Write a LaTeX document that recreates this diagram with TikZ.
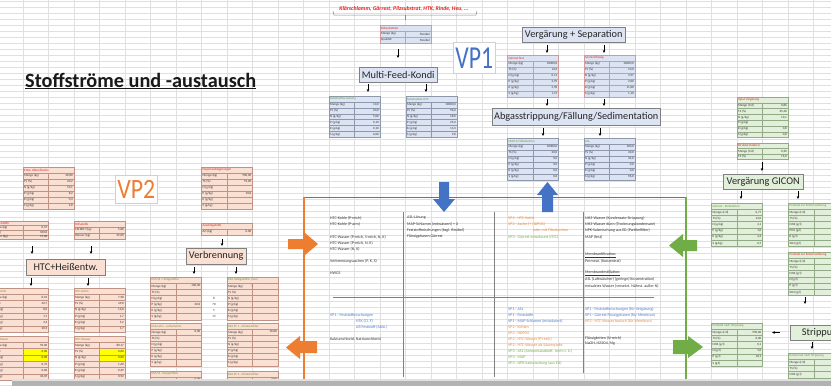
\documentclass[tikz,border=0pt]{standalone}
\usepackage{fontspec}
\setmainfont{Carlito}
\usetikzlibrary{arrows.meta}

\definecolor{gridc}{HTML}{E0E0E0}
\definecolor{vpblue}{HTML}{DCE3F2}
\definecolor{vporange}{HTML}{FADFD3}
\definecolor{vpgreen}{HTML}{E2EFDA}
\definecolor{bdblue}{HTML}{8E98AC}
\definecolor{bdred}{HTML}{D49A9A}
\definecolor{bdorange}{HTML}{BF9284}
\definecolor{bdgreen}{HTML}{93AA86}
\definecolor{hdred}{HTML}{E0201B}
\definecolor{hdgreen}{HTML}{5E9A3A}
\definecolor{hdolive}{HTML}{7E9140}
\definecolor{xlblue}{HTML}{4472C4}
\definecolor{xlorange}{HTML}{ED7D31}
\definecolor{xlgreen}{HTML}{70AD47}
\definecolor{frameblue}{HTML}{5078B0}
\definecolor{yel}{HTML}{FFFF00}
\definecolor{txtblue}{HTML}{4F7BC8}
\definecolor{txtorange}{HTML}{E58A45}
\definecolor{txtgreen}{HTML}{79AE4C}

\tikzset{
  cellline/.style={line width=0.3pt},
  cell/.style={anchor=west,inner sep=0pt,font=\fontsize{3.2}{3.6}\selectfont,text=black!80},
  cellv/.style={anchor=east,inner sep=0pt,font=\fontsize{3.2}{3.6}\selectfont,text=black!80},
  procbox/.style={draw=black!50,line width=0.45pt,anchor=north west,inner sep=0pt,
    font=\fontsize{10.3}{12}\selectfont,text=black!85},
  sarrow/.style={-{Stealth[length=3pt,width=2.6pt]},line width=0.5pt,black},
  ctext/.style={anchor=west,inner sep=0pt,font=\fontsize{4}{4.6}\selectfont,text=black!80},
  sep/.style={black!50,line width=0.6pt},
}

% spreadsheet table: x, y, row height, fill, border, header colour, header text
\newcounter{tblno}
\newcounter{rowno}
\newcommand\tbl[7]{%
  \stepcounter{tblno}\setcounter{rowno}{0}%
  \xdef\tX{#1}\xdef\tY{#2}\xdef\tH{#3}\xdef\tF{#4}\xdef\tB{#5}%
  \fill[#4] (#1,#2) rectangle ++(51,#3);
  \draw[#5,cellline] (#1,#2) rectangle ++(51,#3);
  \node[cell,text=#6,name=t\thetblno-h] at ({#1+1},{#2+#3/2}) {#7};%
}
% one table row: [value cell fill] label, value
\newcommand\trow[3][]{%
  \stepcounter{rowno}%
  \pgfmathsetmacro\ry{\tY+\therowno*\tH}%
  \fill[\tF] (\tX,\ry) rectangle ++(51,\tH);
  \if\relax\detokenize{#1}\relax\else
    \fill[#1] ({\tX+25.5},\ry) rectangle ++(25.5,\tH);
  \fi
  \draw[\tB,cellline] (\tX,\ry) rectangle ++(25.5,\tH) rectangle ++(25.5,-\tH);
  \node[cell,name=t\thetblno-l\therowno] at ({\tX+1},{\ry+\tH/2}) {#2};
  \node[cellv,name=t\thetblno-v\therowno] at ({\tX+50},{\ry+\tH/2}) {#3};%
}
% short vertical flow arrow between two named points
\newcommand\sarr[4]{%
  \coordinate (#1-s) at (#2,#3);
  \coordinate (#1-e) at (#2,#4);
  \draw[sarrow] (#1-s) -- (#1-e);%
}

\begin{document}
\begin{tikzpicture}[x=1pt,y=-1pt]
\useasboundingbox (0,0) rectangle (831,386);
\clip (0,0) rectangle (831,386);
\fill[white] (0,0) rectangle (831,386);

% sheet grid
\foreach \k in {-1,...,32} \draw[gridc,line width=0.35pt] ({23+25.5*\k},0) -- ++(0,386);
\foreach \j in {0,...,65} \draw[gridc,line width=0.35pt] (0,{1+6*\j}) -- ++(831,0);

% title
\node[anchor=base west,inner sep=0pt,font=\fontsize{20.3}{22}\selectfont\bfseries,text=black!90] (title) at (25,87) {\underline{Stoffströme und -austausch}};

% ---------------- VP1 ----------------
\node[inner sep=0pt,font=\fontsize{5.7}{6.5}\selectfont\bfseries\itshape,text=hdred] (inputs) at (404,8.5) {Klärschlamm, Gärrest, Pilzsubstrat, HTK, Rinde, Heu, ...};
\draw[black!45,line width=0.5pt] (333,11) -- (334,15) -- (476,15) -- (477,11);
\draw[black!45,line width=0.5pt] (405,15) -- (405,20);

\tbl{380}{25}{6}{vpblue}{bdred}{hdred}{Rohsubstrate}
\trow{Menge (kg)}{Flexibel}
\trow{Qualität}{Flexibel}

\node[draw=black!18,line width=0.5pt,fill=white,minimum width=42,minimum height=31,inner sep=0pt,anchor=north west,text=xlblue] (vp1) at (453,42) {\scalebox{0.74}[1]{\fontsize{32}{32}\selectfont VP1}};

\node[procbox,fill=vpblue,minimum width=78,minimum height=15] (mfk) at (359,67) {Multi-Feed-Kondi};
\node[procbox,fill=vpblue,minimum width=103,minimum height=15] (vsep) at (522,27) {Vergärung + Separation};
\node[procbox,fill=vpblue,minimum width=168,minimum height=17] (abg) at (492,108) {Abgasstrippung/Fällung/Sedimentation};

\tbl{329}{96}{5.9}{vpblue}{bdblue}{hdgreen}{Substratmix Gärung}
\trow{Menge (kg)}{10,0}
\trow{TS (\%)}{20,0}
\trow{N (g/kg)}{5,00}
\trow{P (g/kg)}{0,10}
\trow{K (g/kg)}{0,10}
\trow{S (g/kg)}{0,00}

\tbl{406}{96}{5.9}{vpblue}{bdblue}{hdgreen}{Substratmix HTC}
\trow{Menge (kg)}{10000,0}
\trow{TS (\%)}{96,0}
\trow{N (g/kg)}{18,0}
\trow{P (g/kg)}{25,0}
\trow{K (g/kg)}{13,3}
\trow{S (g/kg)}{9,8}

\tbl{507.5}{55}{6}{vpblue}{bdred}{hdred}{Gärrest fest}
\trow{Menge (kg)}{10000,0}
\trow{TS (\%)}{16,0}
\trow{N (g/kg)}{0,11}
\trow{P (g/kg)}{2,95}
\trow{K (g/kg)}{5,90}
\trow{S (g/kg)}{1,17}

\tbl{584}{55}{6}{vpblue}{bdred}{hdred}{Gärrest flüssig}
\trow{Menge (kg)}{10000,0}
\trow{TS (\%)}{10,0}
\trow{N (g/kg)}{3,57}
\trow{P (g/kg)}{2,00}
\trow{K (g/kg)}{11,00}
\trow{S (g/kg)}{1,10}

\tbl{507.5}{138}{6}{vpblue}{bdblue}{hdgreen}{MAP \& Filterkuchen}
\trow{Menge (kg)}{10000,0}
\trow{TS (\%)}{20,0}
\trow{N (g/kg)}{0,0}
\trow{P (g/kg)}{0,0}
\trow{K (g/kg)}{0,0}
\trow{S (g/kg)}{0,0}

\tbl{584}{138}{6}{vpblue}{bdblue}{hdgreen}{ASL}
\trow{Menge (kg)}{100,0}
\trow{TS (\%)}{40,0}
\trow{N (g/kg)}{34,0}
\trow{P (g/kg)}{0,0}
\trow{K (g/kg)}{0,0}
\trow{S (g/kg)}{96,0}

\sarr{a1}{398}{49}{58}
\sarr{a2}{368}{84}{92}
\sarr{a3}{426}{84}{92}
\sarr{a4}{547}{45}{53}
\sarr{a5}{604}{45}{53}
\sarr{a6}{547}{99}{106}
\sarr{a7}{604}{99}{106}
\sarr{a8}{543}{128}{136}
\sarr{a9}{600}{128}{136}

% ---------------- VP3 ----------------
\tbl{737}{97}{5.8}{vpgreen}{bdgreen}{hdred}{Input Vergärung}
\trow{Menge (t/d)}{0,86}
\trow{TS (\%)}{35,40}
\trow{N (g/kg)}{13,1}
\trow{P (g/kg)}{}
\trow{K (g/kg)}{0,8}
\trow{S (g/kg)}{0,8}

\tbl{737}{143}{5.5}{vpgreen}{bdgreen}{hdred}{Strukturmaterial}
\trow{Menge (t/d)}{0,20}
\trow{TS (\%)}{15,0}

\node[procbox,fill=vpgreen,minimum width=80,minimum height=14.5] (gicon) at (723,174) {Vergärung GICON};

\tbl{711.5}{203}{6.2}{vpgreen}{bdgreen}{hdgreen}{Gärrest - Perkolation}
\trow{Menge (t/d)}{0,77}
\trow{TS (\%)}{12,0}
\trow{N (g/kg)}{4,1}
\trow{P (g/kg)}{1,0}
\trow{K (g/kg)}{2,4}
\trow{S (g/kg)}{0,7}

\tbl{788.5}{203}{6.2}{vpgreen}{bdgreen}{hdgreen}{Perkolat zur Entschwefelung}
\trow{Menge (t/d)}{}
\trow{TS (\%)}{}
\trow{NH4 (g/l)}{}
\trow{PO4 (g/l)}{}
\trow{K (g/l)}{}
\trow{SO4 (g/l)}{}

\tbl{788.5}{252}{6.2}{vpgreen}{bdgreen}{hdred}{Perkolat zur Entschwefelung}
\trow{Menge (t/d)}{}
\trow{TS (\%)}{}
\trow{NH4 (g/l)}{}
\trow{N (g/l)}{}
\trow{P (g/l)}{}
\trow{SO4 (g/l)}{}

\node[procbox,fill=vpgreen,minimum width=60,minimum height=15.5] (strip) at (790,324.5) {\hspace*{4pt}Strippung\hfill};

\tbl{711.5}{323}{6.2}{vpgreen}{bdgreen}{hdgreen}{Perkolat nach Strippung}
\trow{Menge (t/d)}{990,00}
\trow{TS (\%)}{0,00}
\trow{NH4 (g/l)}{0,1}
\trow{N (g/l)}{5,0}
\trow{P (g/l)}{18,1}
\trow{S (g/l)}{}

\tbl{788.5}{353}{6.2}{vpgreen}{bdgreen}{hdgreen}{Kondensat nach Strippung}
\trow{Menge (t/d)}{}
\trow{TS (\%)}{}
\trow{NH4 (g/l)}{}
\trow{N (g/l)}{}

\sarr{a10}{762}{162}{171}
\sarr{a11}{741}{191}{199}
\sarr{a12}{798}{191}{199}
\sarr{a13}{805}{297}{304}
\coordinate (a14-s) at (780,332.5);
\coordinate (a14-e) at (772,332.5);
\draw[sarrow] (a14-s) -- (a14-e);
\sarr{a15}{812}{342}{349}

% ---------------- VP2 ----------------
\node[draw=xlorange!45,line width=0.5pt,fill=white,minimum width=42,minimum height=28,inner sep=0pt,anchor=north west,text=xlorange] (vp2) at (115,175) {\scalebox{0.85}[1]{\fontsize{28}{28}\selectfont VP2}};

\tbl{23}{167}{6}{vporange}{bdorange}{hdred}{Entw. Klärschlamm}
\trow{Menge (kg)}{20,00}
\trow{TS (\%)}{20,2}
\trow{N (g/kg)}{53,1}
\trow{P (g/kg)}{8,2}
\trow{K (g/kg)}{0,4}
\trow{S (g/kg)}{2,8}

\tbl{-2.5}{221}{4.6}{vporange}{bdorange}{hdred}{\hspace*{-6pt}Einsatzstoffe}
\trow{\hspace*{-6pt}Menge (kg)}{0,57}
\trow{\hspace*{-6pt}TS (kg)}{100,0}
\trow{\hspace*{-6pt}Wasser (kg)}{17,00}

\tbl{74}{221}{6}{vporange}{bdorange}{hdred}{Hilfsstoffe}
\trow{C6H8O7 (kg)}{5,88}
\trow{Wasser (kg)}{35,00}

\node[procbox,fill=vporange,minimum width=79,minimum height=15.5] (htc) at (26,259) {HTC+Heißentw.};

\tbl{-2.5}{288}{6.3}{vporange}{bdorange}{hdolive}{\hspace*{-6pt}HTC-Kohle}
\trow{\hspace*{-6pt}Menge (kg)}{8,01}
\trow{\hspace*{-6pt}TS (\%)}{40,7}
\trow{\hspace*{-6pt}N (g/kg)}{8,0}
\trow{\hspace*{-6pt}P (g/kg)}{1,7}
\trow{\hspace*{-6pt}K (g/kg)}{4,2}
\trow{\hspace*{-6pt}S (g/kg)}{28,3}

\tbl{74}{288}{6.3}{vporange}{bdorange}{hdolive}{HTC-Kohle}
\trow{Menge (kg)}{7,98}
\trow{TS (\%)}{49,8}
\trow{N (g/kg)}{13,0}
\trow{P (g/kg)}{1,7}
\trow{K (g/kg)}{5,2}
\trow{S (g/kg)}{1,7}

\tbl{-2.5}{336}{6.3}{vporange}{bdorange}{hdolive}{\hspace*{-6pt}HTC-Wasser}
\trow{\hspace*{-6pt}Menge (kg)}{92,00}
\trow[yel]{\hspace*{-6pt}TS (\%)}{0,00}
\trow[yel]{\hspace*{-6pt}N (g/kg)}{0,00}
\trow{\hspace*{-6pt}P (g/kg)}{0,72}
\trow{\hspace*{-6pt}K (g/kg)}{0,60}
\trow{\hspace*{-6pt}S (g/kg)}{34,07}

\tbl{74}{336}{6.3}{vporange}{bdorange}{hdolive}{HTC-Wasser}
\trow{Menge (kg)}{80,17}
\trow[yel]{TS (\%)}{0,00}
\trow[yel]{N (g/kg)}{0,00}
\trow{P (g/kg)}{1,60}
\trow{K (g/kg)}{0,39}
\trow{S (g/kg)}{0,92}

\tbl{201.5}{167}{6}{vporange}{bdorange}{hdred}{Deponieablagerungen}
\trow{Menge (kg)}{900,00}
\trow{TS (\%)}{91,00}
\trow{N (g/kg)}{}
\trow{P (g/kg)}{10,0}
\trow{K (g/kg)}{}
\trow{S (g/kg)}{}

\tbl{201.5}{223}{6}{vporange}{bdorange}{hdred}{Zuschlagstoffe}
\trow{Art (kg)}{0,00}

\node[procbox,fill=vporange,minimum width=60,minimum height=16] (verb) at (186,247.5) {Verbrennung};

\tbl{150.5}{277}{6.1}{vporange}{bdorange}{hdolive}{KSA SS - Heißgasfilter}
\trow{Menge (kg)}{100,00}
\trow{TS (\%)}{}
\trow{N (g/kg)}{}
\trow{P (g/kg)}{20,0}
\trow{K (g/kg)}{}
\trow{S (g/kg)}{}

\tbl{227}{277}{6.1}{vporange}{bdorange}{hdolive}{KSA Heißgasfilter (neu)}
\trow{Menge (kg)\hspace*{8.5pt}?}{}
\trow{TS (\%)}{}
\trow{N (g/kg)}{}
\trow{P (g/kg)}{}
\trow{K (g/kg)}{}
\trow{S (g/kg)}{}

\node[cell,anchor=center] (m1) at (214,298.4) {8};
\node[cell,anchor=center] (m2) at (214,304.5) {70};
\node[cell,anchor=center] (m3) at (214,310.6) {5};
\node[cell,anchor=center] (m4) at (214,316.7) {15};

\tbl{150.5}{323}{6.1}{vporange}{bdorange}{hdolive}{KSA Lahn - Luftwäscher}
\trow{Menge (kg)}{0,00}
\trow{TS (\%)}{}
\trow{N (g/kg)}{}
\trow{P (g/kg)}{}
\trow{K (g/kg)}{}
\trow{S (g/kg)}{}

\tbl{227}{323}{6.1}{vporange}{bdorange}{hdolive}{KSA SF 1 - Schlackefilter}
\trow{Menge (kg)}{10,00}
\trow{TS (\%)}{}
\trow{N (g/kg)}{}
\trow{P (g/kg)}{}
\trow{K (g/kg)}{}
\trow{S (g/kg)}{}

\tbl{150.5}{371}{6.1}{vporange}{bdorange}{hdolive}{KSA SF - Doppelfilter}
\trow{Menge (kg)}{0,00}

\tbl{227}{371}{6.1}{vporange}{bdorange}{hdolive}{KSA SF 2 - Schlackefilter}
\trow{Menge (kg)}{7,00}

\sarr{a16}{32}{246}{254}
\sarr{a17}{91}{246}{254}
\sarr{a18}{31}{278}{286}
\sarr{a19}{88}{278}{286}
\sarr{a20}{222}{239}{246}
\sarr{a21}{194}{267}{274}
\sarr{a22}{236}{267}{274}

% ---------------- exchange matrix ----------------
\draw[frameblue,line width=1pt] (304,197) -- (686,197);
\draw[xlorange,line width=1.2pt] (304,197) -- (304,386);
\draw[xlgreen,line width=1.2pt] (686,197) -- (686,386);

\draw[sep] (403,212) -- (403,377);
\draw[sep] (494,212) -- (494,377);
\draw[sep] (583,212) -- (583,373);
\draw[sep] (333,297) -- (654,297);

% top left: offered by VP2
\node[ctext] (q1) at (330,218) {HTC-Kohle (P-reich)};
\node[ctext] (q2) at (330,224) {HTC-Kohle (P-arm)};
\node[ctext] (q3) at (330,237) {HTC-Wasser (P-reich, S-reich, N, K)};
\node[ctext] (q4) at (330,243) {HTC-Wasser (P-reich, N, K)};
\node[ctext] (q5) at (330,249) {HTC-Wasser (N, K)};
\node[ctext] (q6) at (330,261) {Verbrennungsaschen (P, K, S)};
\node[ctext] (q7) at (330,273) {HWGS};

% top middle: offered by VP1
\node[ctext] (r1) at (407,218) {ASL-Lösung};
\node[ctext] (r2) at (407,224) {MAP-Schlamm (entwässert) + X};
\node[ctext] (r3) at (407,230) {Feststoffmischungen (bzgl. flexibel)};
\node[ctext] (r4) at (407,236) {Flüssigphasen Gärrest};

% top right: wanted by VP1
\node[ctext,text=txtorange] (s1) at (508,218) {VP2 - HTC-Kohle};
\node[ctext,text=txtorange] (s2) at (508,224) {VP2 - Asche (+ HDPOS)};
\node[ctext,text=txtorange] (s3) at (533,230.5) {oder mit Filterkuchen};
\node[ctext,text=txtgreen] (s4) at (508,237) {VP3 - Gärrest entwässert (HTC)};

% top far right: offered by VP3
\node[ctext] (u1) at (585,218) {NH3-Wasser (Kondensate Strippung)};
\node[ctext] (u2) at (585,224) {NH3-Wasser dünn (Trocknungskondensate)};
\node[ctext] (u3) at (585,230.5) {NPK-Salzmischung aus ED (Partikelfilter)};
\node[ctext] (u4) at (585,237) {MAP (fest)};
\node[ctext] (u5) at (585,255) {\underline{Membranfiltration:}};
\node[ctext] (u6) at (585,261.5) {Permeat, (Konzentrat)};
\node[ctext] (u7) at (585,273) {\underline{Membrandestillation:}};
\node[ctext] (u8) at (585,279.5) {ASL (Luftwäscher) (geringe) Konzentration)};
\node[ctext] (u9) at (585,286) {entsalztes Wasser (versetzt. Nährst. außer N)};

% bottom left: wanted by VP2
\node[ctext,text=txtblue] (v1) at (330,315) {VP1 - Feststoffmischungen};
\node[ctext,text=txtblue] (v2) at (356,321) {HTK (Cl, F)};
\node[ctext,text=txtblue] (v3) at (356,327) {AR Feststoff (Ablü.)};
\node[ctext] (v4) at (330,339) {Kalziumchlorid, Natriumchlorid};

% bottom right: wanted by VP3
\node[ctext,text=txtblue] (w1) at (508,309) {VP1 - ASL};
\node[ctext,text=txtblue] (w2) at (508,315) {VP1 - Feststoffe};
\node[ctext,text=txtblue] (w3) at (508,321) {VP1 - MAP-Schlamm (entwässert)};
\node[ctext,text=txtorange] (w4) at (508,327) {VP2 - Kohlen};
\node[ctext,text=txtorange] (w5) at (508,333) {VP2 - HDPOS};
\node[ctext,text=txtorange] (w6) at (508,339) {VP2 - HTC-Wasser (P-reich)};
\node[ctext,text=txtorange] (w7) at (508,345) {VP2 - HTC-Wasser als Säurequelle};
\node[ctext,text=txtgreen] (w8) at (508,351) {VP3 - ASL (Ammoniakabluft. reich n. k.)};
\node[ctext,text=txtgreen] (w9) at (508,357) {VP3 - MAP};
\node[ctext,text=txtgreen] (w10) at (508,363) {VP3 - NPK-Salzmischung (aus ED)};

\node[ctext,text=txtblue] (x1) at (585,309) {VP1 - Feststoffmischungen (für Vergärung)};
\node[ctext,text=txtblue] (x2) at (585,315) {VP1 - Gärrest Flüssigphasen (für Membran)};
\node[ctext,text=txtorange] (x3) at (585,321) {VP2 - HTC-Wasser basisch (für Membran)};
\node[ctext] (x4) at (585,338) {Flüssigkeiten (N-reich)};
\node[ctext] (x5) at (585,344) {NaOH, H2SO4, Mg};

% block arrows between the projects and the matrix
\fill[xlblue] (439,182) -- (449,182) -- (449,199) -- (455,199) -- (444,212) -- (433,199) -- (439,199) -- cycle;
\fill[xlblue] (542,212) -- (553,212) -- (553,195) -- (558,195) -- (547.5,182) -- (537,195) -- (542,195) -- cycle;
\fill[xlorange] (288,239) -- (305,239) -- (305,233) -- (318,244) -- (305,255) -- (305,249) -- (288,249) -- cycle;
\fill[xlorange] (317,341) -- (300,341) -- (300,336) -- (286,347.5) -- (300,359) -- (300,353) -- (317,353) -- cycle;
\fill[xlgreen] (697,240) -- (683,240) -- (683,234) -- (669,245.5) -- (683,257) -- (683,251) -- (697,251) -- cycle;
\fill[xlgreen] (673,340) -- (688,340) -- (688,336) -- (703,347) -- (688,358) -- (688,354) -- (673,354) -- cycle;

% window edge at the bottom
\fill[black!12] (12,378.5) rectangle (831,380.5);
\fill[black!30] (12,380.5) rectangle (831,386);
\end{tikzpicture}
\end{document}
